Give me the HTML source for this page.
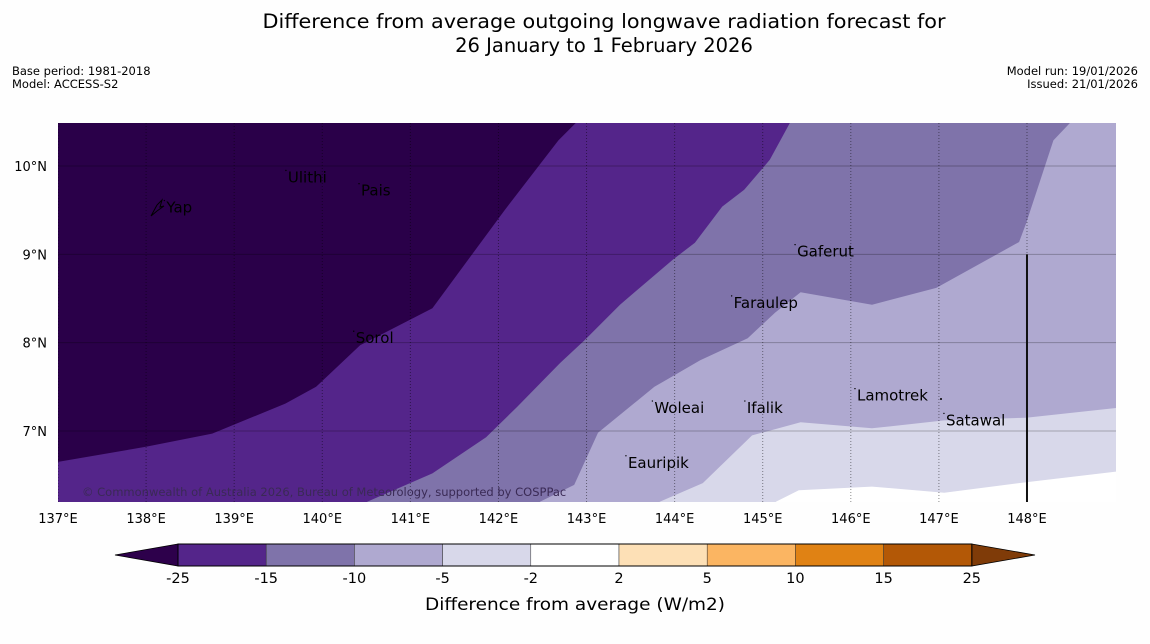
<!DOCTYPE html>
<html><head><meta charset="utf-8"><style>
html,body{margin:0;padding:0;background:#fff;}
svg{display:block;font-family:"DejaVu Sans","Liberation Sans",sans-serif;}
</style></head><body>
<svg id="chart" width="1150" height="644" viewBox="0 0 1150 644" xmlns="http://www.w3.org/2000/svg">
<rect width="1150" height="644" fill="#fefefe"/>
<g font-size="19.5" fill="#000" text-anchor="middle">
<text x="604" y="28" textLength="683" lengthAdjust="spacingAndGlyphs">Difference from average outgoing longwave radiation forecast for</text>
<text x="604" y="52">26 January to 1 February 2026</text>
</g>
<g font-size="11.5" fill="#000">
<text x="12" y="75">Base period: 1981-2018</text>
<text x="12" y="88">Model: ACCESS-S2</text>
<text x="1138" y="75" text-anchor="end">Model run: 19/01/2026</text>
<text x="1138" y="88" text-anchor="end">Issued: 21/01/2026</text>
</g>
<defs><clipPath id="mapclip"><rect x="58" y="123" width="1058" height="379"/></clipPath></defs>
<g id="map" clip-path="url(#mapclip)"></g>
<g id="axes"></g>
<g id="cbar"></g>
<text x="575" y="610" text-anchor="middle" font-size="17" textLength="300" lengthAdjust="spacingAndGlyphs">Difference from average (W/m2)</text>
</svg>
<script>
// Axis ticks
const lonTicks = [137,138,139,140,141,142,143,144,145,146,147,148];
const latTicks = [7,8,9,10];
// Contour boundaries (lon, lat)
const b1Lon = [137.0,137.99,138.75,139.58,139.93,140.43,141.25,142.07,142.68,142.88];
const b1Lat = [6.65,6.82,6.97,7.31,7.50,7.97,8.39,9.50,10.29,10.49];
const b2Lon = [140.51,141.25,141.86,142.21,142.70,142.98,143.38,143.98,144.23,144.54,144.79,145.08,145.31];
const b2Lat = [6.20,6.52,6.93,7.27,7.77,8.03,8.43,8.94,9.13,9.54,9.73,10.07,10.49];
const b3Lon = [142.47,142.86,143.13,143.77,144.29,144.83,145.14,145.43,146.24,146.97,147.91,147.99,148.30,148.49];
const b3Lat = [6.20,6.39,6.98,7.50,7.80,8.05,8.34,8.57,8.43,8.62,9.14,9.35,10.29,10.49];
const b4Lon = [143.83,144.32,144.88,145.43,146.24,147.06,147.99,149.01];
const b4Lat = [6.20,6.41,6.95,7.10,7.03,7.12,7.15,7.26];
const b5Lon = [145.15,145.41,146.24,147.06,147.99,149.01];
const b5Lat = [6.20,6.33,6.37,6.30,6.42,6.54];
// Islands
const islandNames = ["Ulithi","Pais","Yap","Sorol","Gaferut","Faraulep","Woleai","Ifalik","Lamotrek","Satawal","Eauripik"];
const islandLon = [139.61,140.44,138.23,140.38,145.39,144.67,143.77,144.82,146.07,147.08,143.47];
const islandLat = [9.87,9.72,9.53,8.05,9.03,8.45,7.26,7.26,7.40,7.12,6.64];
// Colorbar
const cbLabels = ["-25","-15","-10","-5","-2","2","5","10","15","25"];
const cbColors = ["#54258a","#7f73aa","#afa9d0","#d8d8ea","#ffffff","#fde0b6","#fbb562","#e08214","#b35806"];
const cbLow = "#2d004b", cbHigh = "#7f3b08";

const NS='http://www.w3.org/2000/svg';
const X = lon => 58 + (lon-137)*88.09;
const Y = lat => 166 + (10-lat)*88.33;
const LON_MAX = 149.01, LAT_MIN = 6.196, LAT_MAX = 10.49;
function mk(tag, attrs, parent){const e=document.createElementNS(NS,tag);for(const k in attrs)e.setAttribute(k,attrs[k]);parent.appendChild(e);return e;}
function pts(lons,lats){return lons.map((l,i)=>X(l).toFixed(1)+','+Y(lats[i]).toFixed(1));}
const map=document.getElementById('map');
let r=mk('rect',{x:58,y:123,width:1058,height:379,fill:'#2a0049'},map);


function rightRegion(lons,lats,color,name){
  const p=pts(lons,lats).concat([X(LON_MAX+1)+','+Y(LAT_MAX+1),X(LON_MAX+1)+','+Y(LAT_MIN-1),X(lons[0])+','+Y(LAT_MIN-1)]);
  const e=mk('polygon',{points:p.join(' '),fill:color},map);
  
  
}
function belowRegion(lons,lats,color,name){
  const p=pts(lons,lats).concat([X(LON_MAX+1)+','+Y(lats[lats.length-1]),X(LON_MAX+1)+','+Y(LAT_MIN-1),X(lons[0])+','+Y(LAT_MIN-1)]);
  const e=mk('polygon',{points:p.join(' '),fill:color},map);
  
  
}
rightRegion(b1Lon,b1Lat,'#54258a','region-minus15-25');
rightRegion(b2Lon,b2Lat,'#7f73aa','region-minus10-15');
rightRegion(b3Lon,b3Lat,'#afa9d0','region-minus5-10');
belowRegion(b4Lon,b4Lat,'#d8d8ea','region-minus2-5');
belowRegion(b5Lon,b5Lat,'#ffffff','region-neutral');
// gridlines
lonTicks.forEach(l=>{
  const e=mk('line',{x1:X(l),x2:X(l),y1:123,y2:502,stroke:'#000','stroke-opacity':0.45,'stroke-width':1,'stroke-dasharray':'1,2'},map);
  
  
});
latTicks.forEach(l=>{
  const e=mk('line',{x1:58,x2:1116,y1:Y(l),y2:Y(l),stroke:'#000','stroke-opacity':0.25,'stroke-width':1},map);
  
  
});
let vl=mk('line',{x1:X(148),x2:X(148),y1:Y(9),y2:502,stroke:'#111','stroke-width':2},map);


// Yap shape
let yap=mk('path',{d:'M151,216 L157,205 L162,200 L160,207 L164,206 L157,211 Z',fill:'none',stroke:'#000','stroke-width':1},map);


islandNames.forEach((n,i)=>{
  const d=mk('circle',{cx:X(islandLon[i])-2,cy:Y(islandLat[i])-7,r:0.7,fill:'#000'},map);
  
  
  const t=mk('text',{x:X(islandLon[i]),y:Y(islandLat[i])+5,'font-size':15,fill:'#000'},map);
  t.textContent=n;
  
  
});
let dot=mk('circle',{cx:941,cy:399,r:1,fill:'#000'},map);


let cp=mk('text',{x:82,y:496,'font-size':11.5,fill:'#3a2a55'},map);
cp.textContent='© Commonwealth of Australia 2026, Bureau of Meteorology, supported by COSPPac';


// axes labels
const axes=document.getElementById('axes');
lonTicks.forEach(l=>{
  const t=mk('text',{x:X(l),y:523,'font-size':13,'text-anchor':'middle'},axes);
  t.textContent=l+'°E';
  
  
});
latTicks.forEach(l=>{
  const t=mk('text',{x:47,y:Y(l)+5,'font-size':13,'text-anchor':'end'},axes);
  t.textContent=l+'°N';
  
  
});
// colorbar
const cb=document.getElementById('cbar');
const cx0=178, cw=88.2, cy0=544, ch=22;
let lt=mk('polygon',{points:`${cx0},${cy0} 115,${cy0+ch/2} ${cx0},${cy0+ch}`,fill:cbLow,stroke:'#000','stroke-width':0.8},cb);


const cend=cx0+cw*cbColors.length;
let rt=mk('polygon',{points:`${cend},${cy0} 1035,${cy0+ch/2} ${cend},${cy0+ch}`,fill:cbHigh,stroke:'#000','stroke-width':0.8},cb);


cbColors.forEach((c,i)=>{
  const e=mk('rect',{x:cx0+i*cw,y:cy0,width:cw,height:ch,fill:c,stroke:'#333','stroke-width':0.5},cb);
  
  
});
let ob=mk('rect',{x:cx0,y:cy0,width:cw*cbColors.length,height:ch,fill:'none',stroke:'#000','stroke-width':1},cb);


cbLabels.forEach((s,i)=>{
  const t=mk('text',{x:cx0+i*cw,y:583,'font-size':14.5,'text-anchor':'middle'},cb);
  t.textContent=s;
  
  
});
</script>
</body></html>
